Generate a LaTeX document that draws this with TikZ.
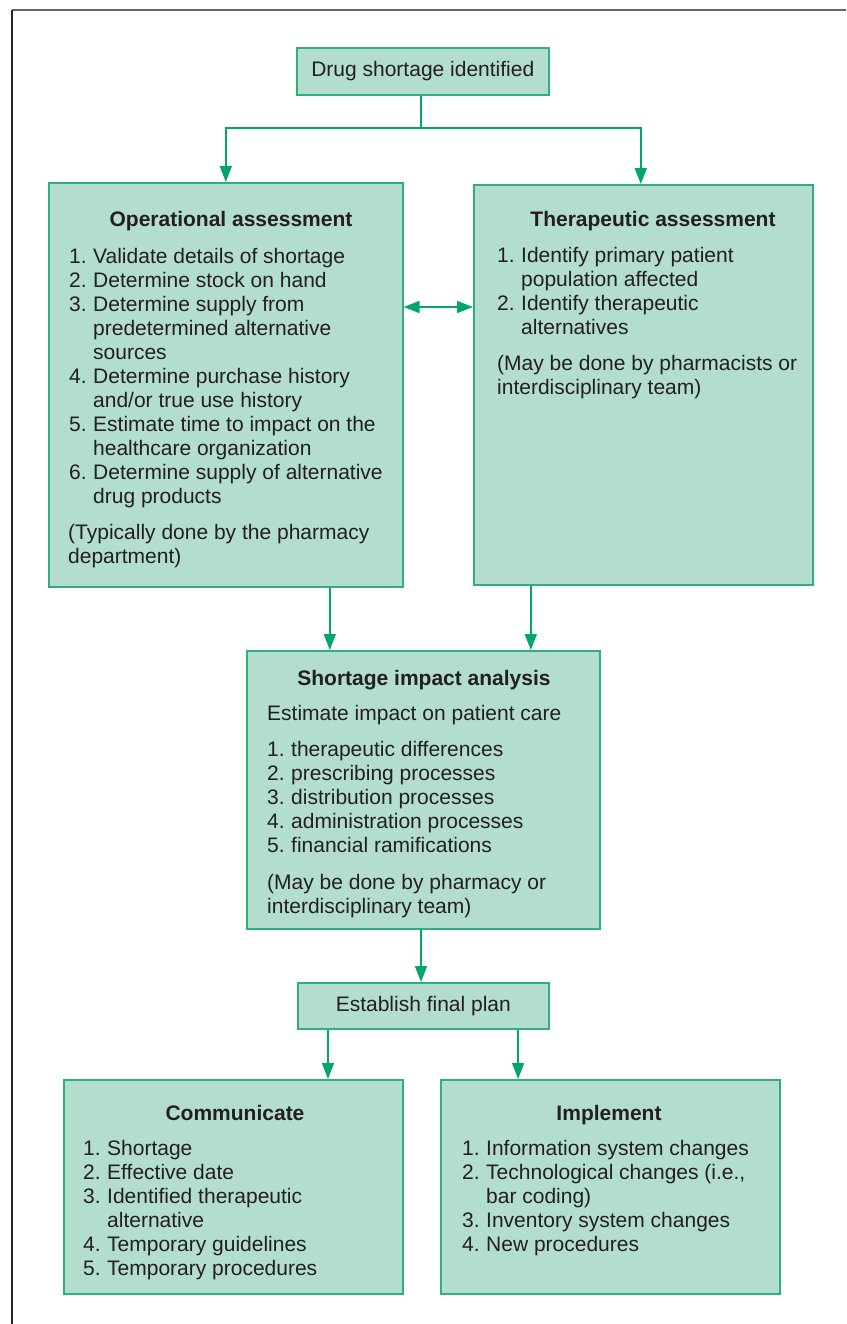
\documentclass[tikz,border=0pt]{standalone}
\usepackage{fontspec}
\setmainfont{Liberation Sans}
\usepackage{xcolor}
\usetikzlibrary{positioning,calc,arrows.meta}
\definecolor{ShortFill}{RGB}{179,221,205}
\definecolor{ShortLine}{RGB}{46,176,124}
\definecolor{ShortArrow}{RGB}{0,166,106}
\definecolor{ShortText}{RGB}{35,31,32}
\definecolor{ShortFrame}{RGB}{100,100,100}
\newcommand{\listnum}[2]{\makebox[24pt][l]{#1}#2}
\tikzset{
    box/.style={draw=ShortLine, fill=ShortFill, rectangle, line width=1.6pt,
                anchor=north west, sharp corners, inner sep=0pt},
    stepbox/.style={box, font=\fontsize{21}{24}\selectfont, text=ShortText},
    boxtitle/.style={anchor=base, inner sep=0pt, text=ShortText,
                     font=\fontsize{21}{24}\selectfont\bfseries},
    % multi-line texts sit on the baseline of their last line
    listtext/.style={anchor=base west, inner sep=0pt, align=left, text=ShortText,
                     font=\fontsize{21}{24}\selectfont},
    % Arrow styles
    signal/.style={-{Triangle[width=12pt,length=16pt]}, draw=ShortArrow, line width=1.6pt},
    twoway/.style={{Triangle[width=12pt,length=16pt]}-{Triangle[width=12pt,length=16pt]},
                   draw=ShortArrow, line width=1.6pt},
    link/.style={draw=ShortArrow, line width=1.6pt}
}

\begin{document}
\begin{tikzpicture}[x=1pt, y=-1pt]
    \useasboundingbox (0,0) rectangle (846,1324);
    % Frame
    \draw[ShortFrame, line width=2pt] (12,10) -- (846,10);
    \draw[black!85, line width=1.2pt] (12,10) -- (12,1324);

    % Boxes
    \node[stepbox, minimum width=252pt, minimum height=47pt] (drug) at (296,47) {};
    \node[stepbox, minimum width=354pt, minimum height=404pt] (opbox) at (48,182) {};
    \node[stepbox, minimum width=339pt, minimum height=400pt] (thbox) at (473,184) {};
    \node[stepbox, minimum width=353pt, minimum height=278pt] (impact) at (246,650) {};
    \node[stepbox, minimum width=251pt, minimum height=46pt] (plan) at (297,982) {};
    \node[stepbox, minimum width=339pt, minimum height=214pt] (comm) at (63,1079) {};
    \node[stepbox, minimum width=339pt, minimum height=214pt] (impl) at (440,1079) {};

    % Box texts
    \node[listtext, anchor=center] (drugtext) at (drug.center) {Drug shortage identified};
    \node[listtext, anchor=center] (plantext) at (plan.center) {Establish final plan};

    \node[boxtitle] (optitle) at (231,227) {Operational assessment};
    \node[listtext] (oplist) at (69,503) {%
        \listnum{1.}{Validate details of shortage}\\
        \listnum{2.}{Determine stock on hand}\\
        \listnum{3.}{Determine supply from}\\
        \listnum{}{predetermined alternative}\\
        \listnum{}{sources}\\
        \listnum{4.}{Determine purchase history}\\
        \listnum{}{and/or true use history}\\
        \listnum{5.}{Estimate time to impact on the}\\
        \listnum{}{healthcare organization}\\
        \listnum{6.}{Determine supply of alternative}\\
        \listnum{}{drug products}};
    \node[listtext] (opnote) at (68,563) {(Typically done by the pharmacy\\department)};

    \node[boxtitle] (thtitle) at (653,227) {Therapeutic assessment};
    \node[listtext] (thlist) at (497,334) {%
        \listnum{1.}{Identify primary patient}\\
        \listnum{}{population affected}\\
        \listnum{2.}{Identify therapeutic}\\
        \listnum{}{alternatives}};
    \node[listtext] (thnote) at (497,394) {(May be done by pharmacists or\\interdisciplinary team)};

    \node[boxtitle] (imtitle) at (424,685) {Shortage impact analysis};
    \node[listtext] (imlead) at (267,720) {Estimate impact on patient care};
    \node[listtext] (imlist) at (267,852) {%
        \listnum{1.}{therapeutic differences}\\
        \listnum{2.}{prescribing processes}\\
        \listnum{3.}{distribution processes}\\
        \listnum{4.}{administration processes}\\
        \listnum{5.}{financial ramifications}};
    \node[listtext] (imnote) at (267,913) {(May be done by pharmacy or\\interdisciplinary team)};

    \node[boxtitle] (comtitle) at (235,1120) {Communicate};
    \node[listtext] (comlist) at (83,1275) {%
        \listnum{1.}{Shortage}\\
        \listnum{2.}{Effective date}\\
        \listnum{3.}{Identified therapeutic}\\
        \listnum{}{alternative}\\
        \listnum{4.}{Temporary guidelines}\\
        \listnum{5.}{Temporary procedures}};

    \node[boxtitle] (imptitle) at (609,1120) {Implement};
    \node[listtext] (implist) at (462,1251) {%
        \listnum{1.}{Information system changes}\\
        \listnum{2.}{Technological changes (i.e.,}\\
        \listnum{}{bar coding)}\\
        \listnum{3.}{Inventory system changes}\\
        \listnum{4.}{New procedures}};

    % Signal paths with arrows
    \coordinate (split) at (421,128);
    \draw[link] (drug.south -| split) -- (split);
    \draw[signal] (split) -| (opbox.north);
    \draw[signal] (split) -| ([xshift=-2.5pt]thbox.north);
    \draw[twoway] ([yshift=-125pt]opbox.north east) -- ([yshift=-125pt]opbox.north east -| thbox.west);

    \coordinate[right=104pt of opbox.south] (opout);
    \coordinate[left=112.5pt of thbox.south] (thout);
    \draw[signal] (opout) -- (opout |- impact.north);
    \draw[signal] (thout) -- (thout |- impact.north);
    \draw[signal] (impact.south -| split) -- (plan.north -| split);

    \coordinate[right=31pt of plan.south west] (planleft);
    \coordinate[right=94.8pt of plan.south] (planright);
    \draw[signal] (planleft) -- (planleft |- comm.north);
    \draw[signal] (planright) -- (planright |- impl.north);
\end{tikzpicture}
\end{document}
